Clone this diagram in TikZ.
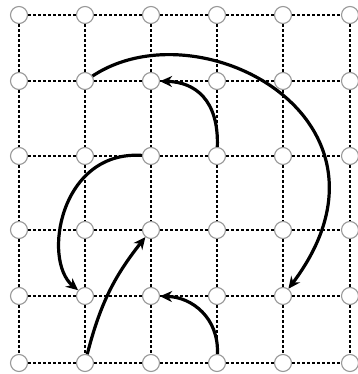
\documentclass[tikz,border=0pt]{standalone}
\usetikzlibrary{arrows.meta}
\begin{document}
\begin{tikzpicture}[x=1pt,y=-1pt,
  dot/.style={circle,draw=black!40,fill=white,line width=1.1pt,minimum size=17pt,inner sep=0pt},
  gridline/.style={black,line width=1.2pt,dash pattern=on 3pt off 2pt},
  arc/.style={line width=3.2pt,-{Stealth[length=12pt,width=11pt]}}]
\useasboundingbox (0,0) rectangle (357,374);
\foreach \c/\x in {0/19,1/85,2/151,3/217,4/283,5/350}
  \foreach \r/\y in {0/15,1/81,2/156,3/230,4/296,5/363}
    \node[dot] (n\c\r) at (\x,\y) {};
\foreach \c [evaluate=\c as \d using int(\c+1)] in {0,...,4}
  \foreach \r in {0,...,5}
    \draw[gridline] (n\c\r) -- (n\d\r);
\foreach \r [evaluate=\r as \s using int(\r+1)] in {0,...,4}
  \foreach \c in {0,...,5}
    \draw[gridline] (n\c\r) -- (n\c\s);
% arrows
\draw[arc] (n11) .. controls (200,5) and (415,120) .. (n44);
\draw[arc] (n32) .. controls (219,100) and (195,82) .. (n21);
\draw[arc] (n22) .. controls (60,150) and (42,260) .. (n14);
\draw[arc] (n15) to[bend left=12] (n23);
\draw[arc] (n35) .. controls (219,318) and (192,297) .. (n24);
\end{tikzpicture}
\end{document}
